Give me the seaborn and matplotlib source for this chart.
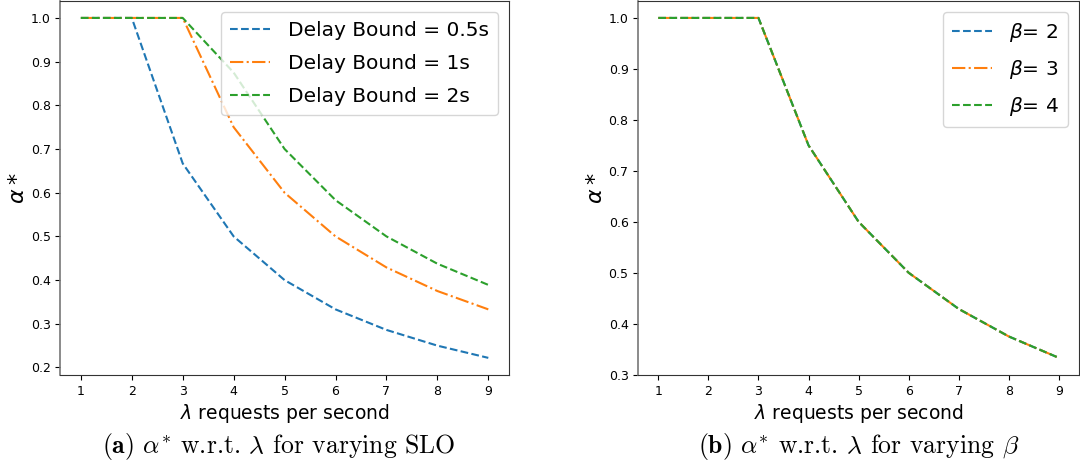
import matplotlib
matplotlib.use("Agg")
import matplotlib.pyplot as plt
import seaborn as sns
import numpy as np

lam = [1, 2, 3, 4, 5, 6, 7, 8, 9]
alpha_d05 = [1.0, 1.0, 0.667, 0.5, 0.4, 0.333, 0.286, 0.25, 0.222]
alpha_d1 = [1.0, 1.0, 1.0, 0.75, 0.6, 0.5, 0.429, 0.375, 0.333]
alpha_d2 = [1.0, 1.0, 1.0, 0.875, 0.7, 0.583, 0.5, 0.4375, 0.389]
labels_a = ["Delay Bound = 0.5s", "Delay Bound = 1s", "Delay Bound = 2s"]

alpha_b2 = [1.0, 1.0, 1.0, 0.75, 0.6, 0.5, 0.429, 0.375, 0.333]
alpha_b3 = [1.0, 1.0, 1.0, 0.75, 0.6, 0.5, 0.429, 0.375, 0.333]
alpha_b4 = [1.0, 1.0, 1.0, 0.75, 0.6, 0.5, 0.429, 0.375, 0.333]
labels_b = [r"$\beta$= 2", r"$\beta$= 3", r"$\beta$= 4"]

sns.set_style("ticks")
plt.rcParams['font.family'] = ['DejaVu Sans']
plt.rcParams['text.color'] = 'black'
plt.rcParams['xtick.color'] = 'black'
plt.rcParams['ytick.color'] = 'black'
plt.rcParams['axes.labelcolor'] = 'black'

colors = ["#1f77b4", "#ff7f0e", "#2ca02c"]
styles = ["--", "-.", "--"]

fig = plt.figure(figsize=(10.8, 4.68), dpi=100)
ax1 = fig.add_axes([0.056, 0.199, 0.415, 0.799])
ax2 = fig.add_axes([0.591, 0.199, 0.408, 0.799])

for ax, series, labels in [(ax1, [alpha_d05, alpha_d1, alpha_d2], labels_a),
                           (ax2, [alpha_b2, alpha_b3, alpha_b4], labels_b)]:
    for y, lab, c, ls in zip(series, labels, colors, styles):
        sns.lineplot(x=lam, y=y, ax=ax, color=c, linestyle=ls, label=lab, linewidth=1.5)
    ax.set_xticks(lam)
    ax.tick_params(labelsize=9, length=3.5)
    ax.set_xlabel(r"$\lambda$ requests per second", fontsize=13.5, labelpad=3)
    ax.set_ylabel(r"$\alpha*$", fontsize=16, labelpad=2)
    for s in ["top", "right", "bottom"]:
        ax.spines[s].set_color("#333333")
    ax.spines["left"].set_color("#777777")
    ax.spines["left"].set_linewidth(1.2)

leg_kw = dict(loc="upper right", fontsize=14.5, framealpha=0.8, handlelength=2.0,
              labelspacing=0.7, handletextpad=0.85, borderpad=0.45, borderaxespad=0.55)
ax1.legend(**leg_kw)
ax2.legend(**leg_kw)

fig.text(0.258, 0.047, r"$\mathbf{(a)}$ $\alpha^{*}$ w.r.t. $\lambda$ for varying SLO",
         ha="center", va="center", fontsize=18.5, family="cmr10", math_fontfamily="cm")
fig.text(0.795, 0.047, r"$\mathbf{(b)}$ $\alpha^{*}$ w.r.t. $\lambda$ for varying $\beta$",
         ha="center", va="center", fontsize=18.5, family="cmr10", math_fontfamily="cm")

fig.savefig("out.png", dpi=100)
